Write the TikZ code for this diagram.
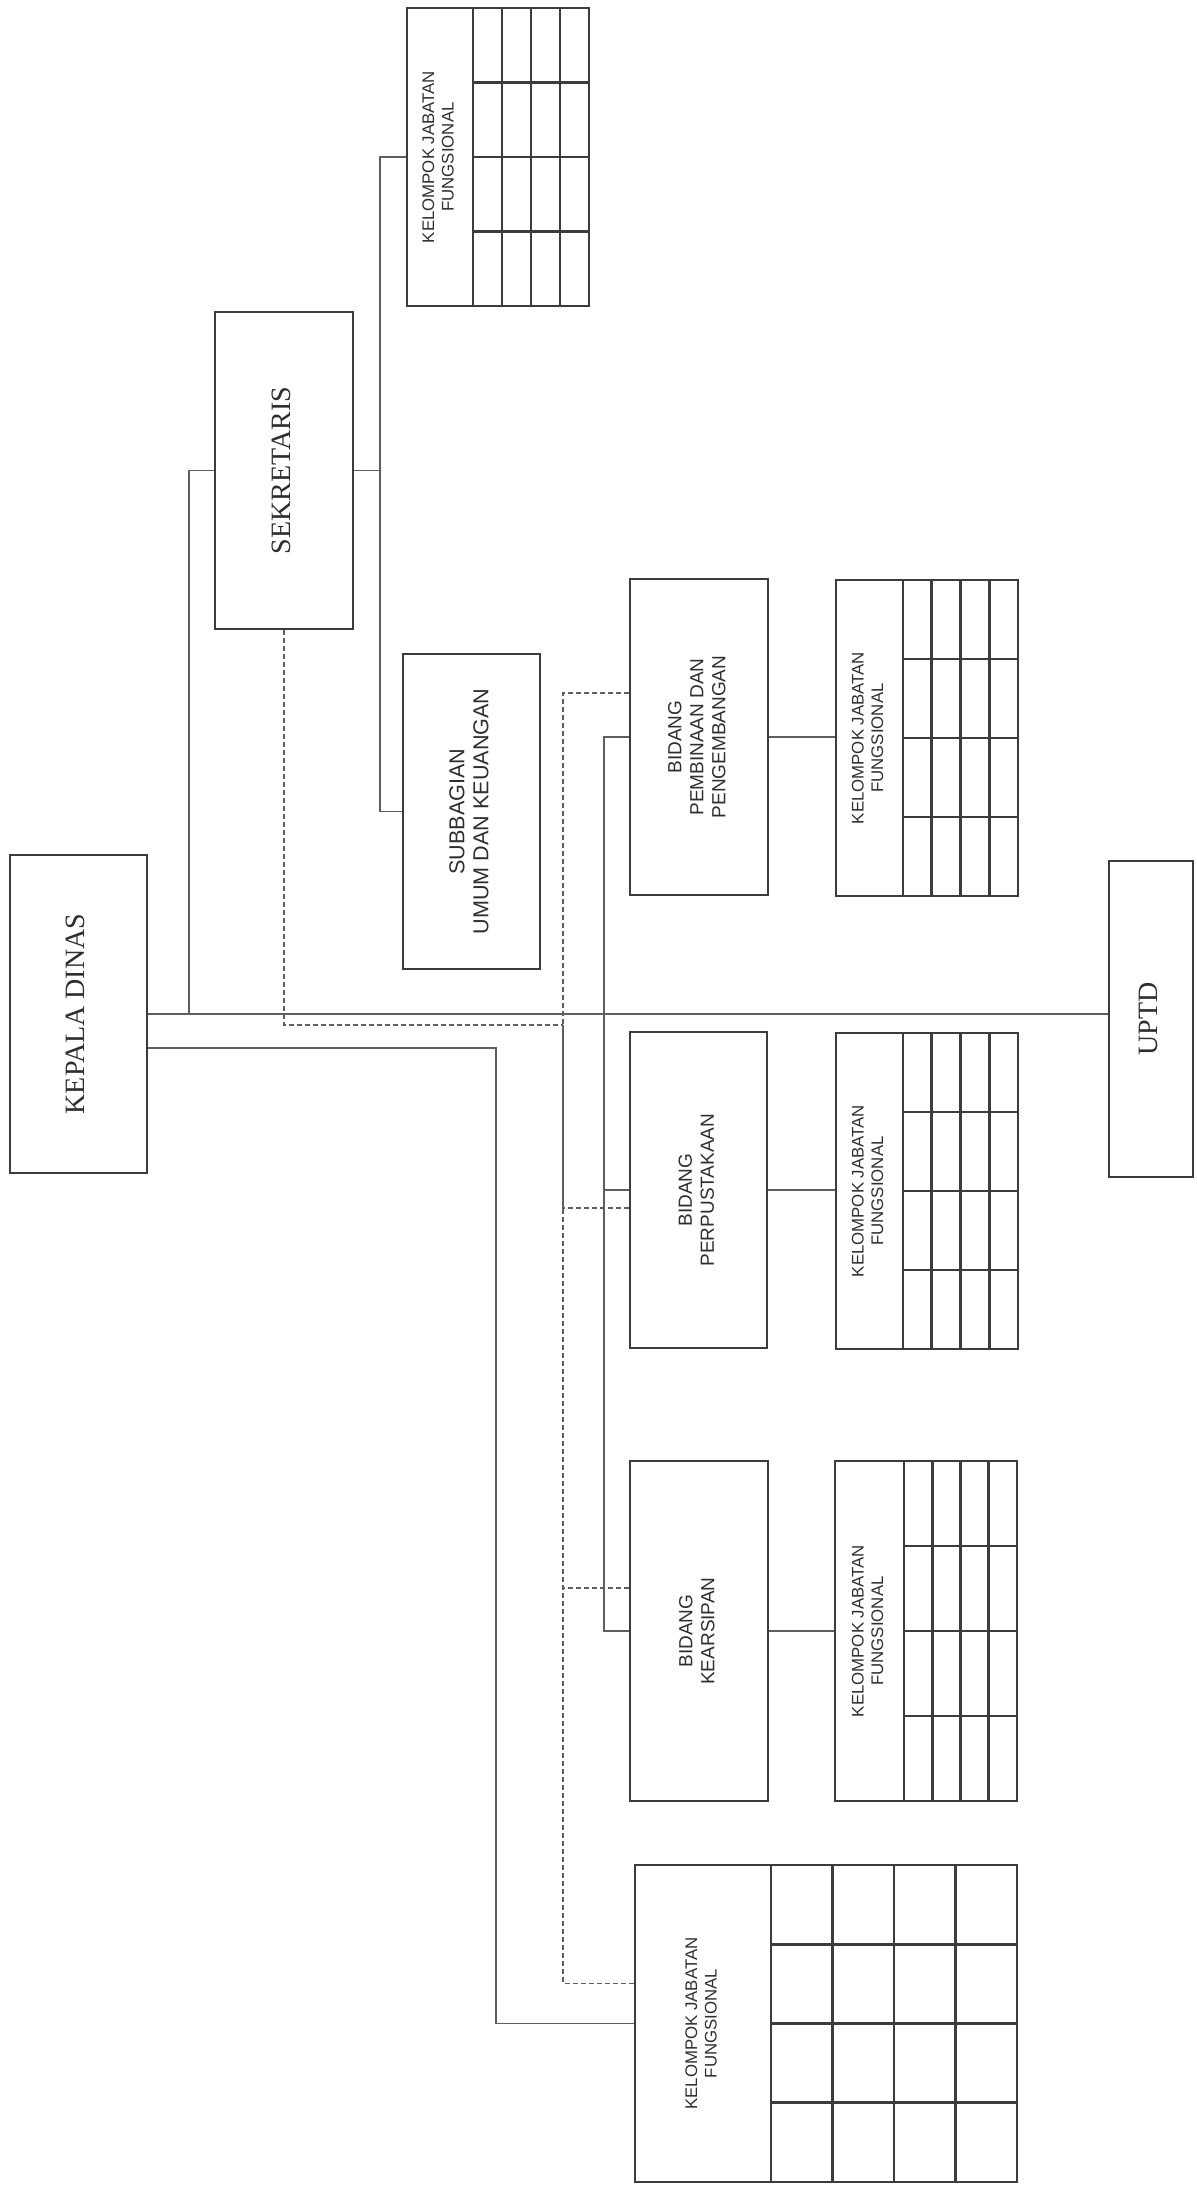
\documentclass[tikz,border=0pt]{standalone}
\usepackage{fontspec}
\setmainfont{Liberation Serif}
\newfontfamily\sansf{Liberation Sans}
\usetikzlibrary{calc}
\definecolor{boxc}{HTML}{3C3C3C}
\definecolor{linec}{HTML}{5E5E5E}
\definecolor{txtc}{HTML}{2E2E2E}
\tikzset{
  box/.style={draw=boxc, line width=1.4pt, fill=white, inner sep=0pt, text=txtc, align=center},
  conn/.style={draw=linec, line width=0.9pt},
  dsh/.style={draw=linec, line width=0.8pt, dash pattern=on 2.5pt off 1.5pt},
  gridl/.style={draw=boxc, line width=1.4pt},
  serift/.style={font=\fontsize{14}{16}\selectfont},
  bidt/.style={font=\sansf\fontsize{9.5}{11}\selectfont},
  subt/.style={font=\sansf\fontsize{10.8}{12}\selectfont},
  kjft/.style={font=\sansf\fontsize{8.4}{9.8}\selectfont, text=txtc, inner sep=0pt},
}
\newcommand{\kgrid}[4]{%
  \draw[gridl] (#1,#3) -- (#1,#4);
  \foreach \k in {1,2,3} {
    \draw[gridl] ({#1+\k*(#2-#1)/4},#3) -- ({#1+\k*(#2-#1)/4},#4);
    \draw[gridl] (#1,{#3+\k*(#4-#3)/4}) -- (#2,{#3+\k*(#4-#3)/4});
  }}
\newcommand{\rtxt}[1]{\rotatebox{90}{\begin{tabular}{@{}c@{}}#1\end{tabular}}}
\begin{document}
\begin{tikzpicture}[x=0.5pt, y=-0.5pt]
\useasboundingbox[fill=white] (0,0) rectangle (1196,2186);

% boxes
\node[box, serift, minimum width=68.5pt, minimum height=159pt] (kepala) at (78.5,1014) {\rtxt{KEPALA DINAS}};
\node[box, serift, minimum width=69pt, minimum height=158.5pt] (sek) at (284,470.5) {\rtxt{SEKRETARIS}};
\node[box, subt, minimum width=68.5pt, minimum height=157.5pt] (sub) at (471.5,811.5) {\rtxt{SUBBAGIAN\\UMUM DAN KEUANGAN}};
\node[box, minimum width=91pt, minimum height=149pt] (kjfA) at (498,157) {};
\node[kjft] (kjfAt) at (440,157) {\rtxt{KELOMPOK JABATAN\\FUNGSIONAL}};

\node[box, bidt, minimum width=69pt, minimum height=158pt] (bidA) at (699,737) {\rtxt{BIDANG\\PEMBINAAN DAN\\PENGEMBANGAN}};
\node[box, minimum width=91pt, minimum height=158pt] (kjfB) at (927,738) {};
\node[kjft] (kjfBt) at (869.5,738) {\rtxt{KELOMPOK JABATAN\\FUNGSIONAL}};

\node[box, bidt, minimum width=68.5pt, minimum height=158pt] (bidB) at (698.5,1190) {\rtxt{BIDANG\\PERPUSTAKAAN}};
\node[box, minimum width=91pt, minimum height=158pt] (kjfC) at (927,1191) {};
\node[kjft] (kjfCt) at (869.5,1191) {\rtxt{KELOMPOK JABATAN\\FUNGSIONAL}};

\node[box, bidt, minimum width=69pt, minimum height=170pt] (bidC) at (699,1631) {\rtxt{BIDANG\\KEARSIPAN}};
\node[box, minimum width=91pt, minimum height=170pt] (kjfD) at (926,1631) {};
\node[kjft] (kjfDt) at (869.5,1631) {\rtxt{KELOMPOK JABATAN\\FUNGSIONAL}};

\node[box, serift, minimum width=42pt, minimum height=158pt] (upt) at (1151,1019) {\rtxt{UPTD}};

\node[box, minimum width=191pt, minimum height=158.5pt] (kjfE) at (826,2023.5) {};
\node[kjft] (kjfEt) at (703,2023.5) {\rtxt{KELOMPOK JABATAN\\FUNGSIONAL}};

% grids
\kgrid{473}{589}{8}{306}
\kgrid{903}{1018}{580}{896}
\kgrid{903}{1018}{1033}{1349}
\kgrid{904}{1017}{1461}{1801}
\kgrid{771}{1017}{1865}{2182}

% junction coordinates
\coordinate (j1) at (189,1014);
\coordinate (s1) at (380,470.5);
\coordinate (b1) at (604,1014);
\coordinate (e1) at (496,1048);
\coordinate (d1) at (563,1025);

% solid connectors
\draw[conn] (kepala.east) -- (kepala.east -| upt.west);
\draw[conn] (sek.west) -| (j1);
\draw[conn] (sek.east) -- (s1);
\draw[conn] (kjfA.west) -| (s1) |- (sub.west);
\draw[conn] (bidA.west) -| (b1);
\draw[conn] (bidB.west) -| (b1);
\draw[conn] (bidC.west) -| (b1);
\draw[conn] (bidA.east) -- (bidA.east -| kjfB.west);
\draw[conn] (bidB.east) -- (bidB.east -| kjfC.west);
\draw[conn] (bidC.east) -- (bidC.east -| kjfD.west);
\draw[conn] (kepala.east |- e1) -- (e1) |- (kjfE.west);

% dashed connectors
\draw[dsh] (sek.south) |- (d1);
\draw[dsh] ($(bidA.west)+(0,-44)$) -| (d1);
\draw[dsh] ($(bidB.west)+(0,18)$) -| (d1);
\draw[dsh] ($(bidC.west)+(0,-43)$) -| (d1);
\draw[dsh] ($(kjfE.west)+(0,-40)$) -| (d1);
\end{tikzpicture}
\end{document}
